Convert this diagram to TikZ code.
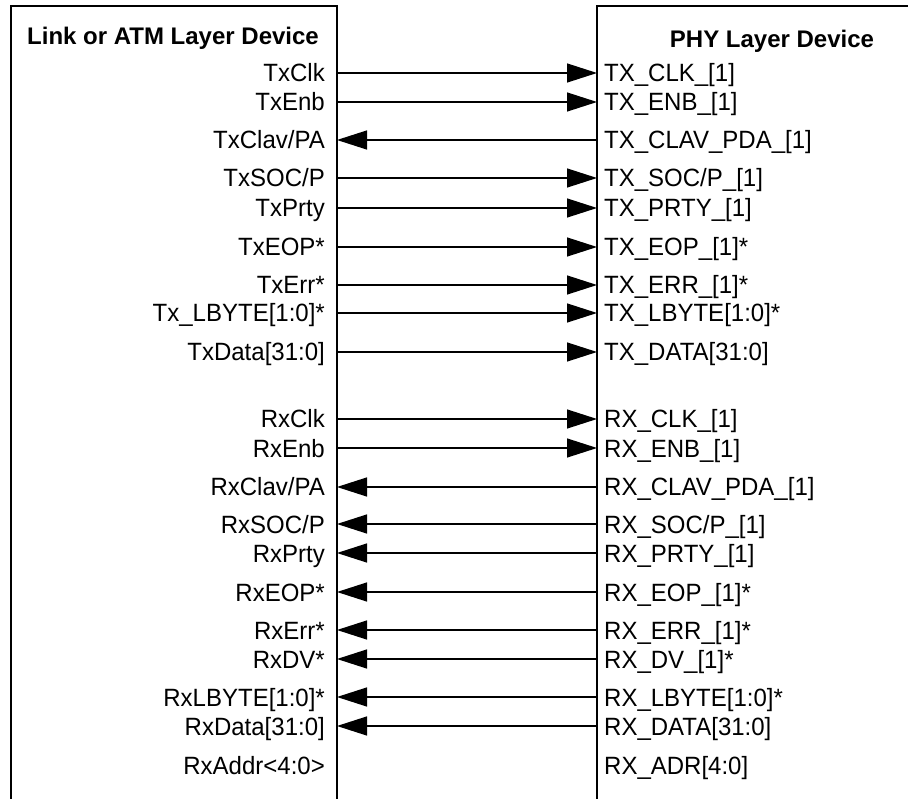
\documentclass[tikz,border=0pt]{standalone}
\usepackage{fontspec}
\setmainfont{Liberation Sans}
\newfontfamily\labfont[FakeStretch=0.96]{Liberation Sans}
\usetikzlibrary{arrows.meta}
\newcommand\sigrow[5]{%
  \node[llab] (L#1) at (325,#2+9) {#3};
  \node[rlab] (R#1) at (604,#2+9) {#4};
  \coordinate (l#1) at (337,#2);
  \coordinate (r#1) at (597,#2);
  \draw[#5] (l#1) -- (r#1);}
\begin{document}
\begin{tikzpicture}[x=1pt,y=-1pt,
  box/.style={line width=1.8pt},
  sig/.style={line width=1.3pt},
  fwd/.style={sig,-{Triangle[length=30pt,width=19pt]}},
  bwd/.style={sig,{Triangle[length=30pt,width=19pt]}-},
  llab/.style={anchor=base east,inner sep=0pt,font=\labfont\fontsize{25}{25}\selectfont},
  rlab/.style={anchor=base west,inner sep=0pt,font=\labfont\fontsize{25}{25}\selectfont},
  title/.style={anchor=base,inner sep=0pt,font=\bfseries\fontsize{24}{24}\selectfont}]
\useasboundingbox (0,0) rectangle (908,799);
\draw[box] (11,799) -- (11,6) -- (337,6) -- (337,799);
\draw[box] (908,6) -- (597,6) -- (597,799);
\node[title] (tl) at (173,45) {Link or ATM Layer Device};
\node[title] (tr) at (772,48) {PHY Layer Device};
\sigrow{a}{73}{TxClk}{TX\_CLK\_[1]}{fwd}
\sigrow{b}{102}{TxEnb}{TX\_ENB\_[1]}{fwd}
\sigrow{c}{140}{TxClav/PA}{TX\_CLAV\_PDA\_[1]}{bwd}
\sigrow{d}{178}{TxSOC/P}{TX\_SOC/P\_[1]}{fwd}
\sigrow{e}{208}{TxPrty}{TX\_PRTY\_[1]}{fwd}
\sigrow{f}{247}{TxEOP*}{TX\_EOP\_[1]*}{fwd}
\sigrow{g}{285}{TxErr*}{TX\_ERR\_[1]*}{fwd}
\sigrow{h}{313}{Tx\_LBYTE[1:0]*}{TX\_LBYTE[1:0]*}{fwd}
\sigrow{i}{352}{TxData[31:0]}{TX\_DATA[31:0]}{fwd}
\sigrow{j}{419}{RxClk}{RX\_CLK\_[1]}{fwd}
\sigrow{k}{448}{RxEnb}{RX\_ENB\_[1]}{fwd}
\sigrow{m}{487}{RxClav/PA}{RX\_CLAV\_PDA\_[1]}{bwd}
\sigrow{n}{524}{RxSOC/P}{RX\_SOC/P\_[1]}{bwd}
\sigrow{o}{553}{RxPrty}{RX\_PRTY\_[1]}{bwd}
\sigrow{p}{592}{RxEOP*}{RX\_EOP\_[1]*}{bwd}
\sigrow{q}{630}{RxErr*}{RX\_ERR\_[1]*}{bwd}
\sigrow{r}{659}{RxDV*}{RX\_DV\_[1]*}{bwd}
\sigrow{s}{697}{RxLBYTE[1:0]*}{RX\_LBYTE[1:0]*}{bwd}
\sigrow{t}{726}{RxData[31:0]}{RX\_DATA[31:0]}{bwd}
\node[llab] (Lu) at (325,774) {RxAddr<4:0>};
\node[rlab] (Ru) at (604,774) {RX\_ADR[4:0]};
\end{tikzpicture}
\end{document}
